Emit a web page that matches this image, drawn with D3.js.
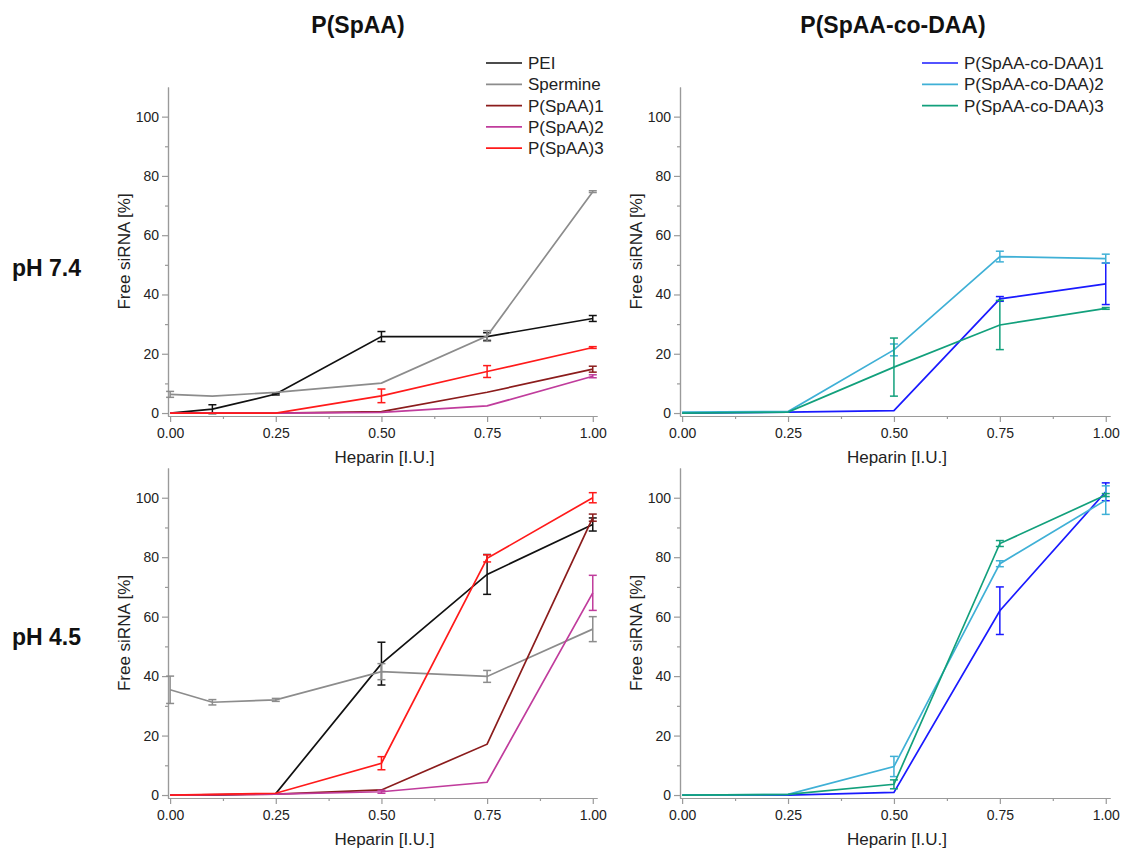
<!DOCTYPE html>
<html>
<head>
<meta charset="utf-8">
<style>
  body { margin: 0; background: #fff; }
  text { font-family: "Liberation Sans", Arial, sans-serif; }
</style>
</head>
<body>
<svg id="container" width="1121" height="849"></svg>
<script src="https://cdn.jsdelivr.net/npm/d3@7"></script>
<script>
    // ---- data ----
    let doses = [0, 0.25, 0.5, 0.75, 1]
    let dosesFine = [0, 0.1, 0.25, 0.5, 0.75, 1]

    let xTicks = [0, 0.25, 0.5, 0.75, 1]
    let xMinorTicks = [0.125, 0.375, 0.625, 0.875]
    let yTicks = [0, 20, 40, 60, 80, 100]
    let yMinorTicks = [10, 30, 50, 70, 90]

    let colTitles = ["P(SpAA)", "P(SpAA-co-DAA)"]
    let rowTitles = ["pH 7.4", "pH 4.5"]

    let leftNames = ["PEI", "Spermine", "P(SpAA)1", "P(SpAA)2", "P(SpAA)3"]
    let leftColors = ["#111111", "#8c8c8c", "#8b1c1c", "#c03c9c", "#ff1a1a"]
    let rightNames = ["P(SpAA-co-DAA)1", "P(SpAA-co-DAA)2", "P(SpAA-co-DAA)3"]
    let rightColors = ["#1a1aff", "#3fb0d6", "#12a07c"]

    // pH 7.4
    let pei74 = [0, 1.3, 6.4, 25.8, 25.8, 31.9]
    let pei74Err = [0, 1.5, 0.3, 1.7, 1.3, 1.0]
    let spermine74 = [6.3, 5.7, 7.0, 10.1, 26.0, 74.7]
    let spermine74Err = [1.0, 0, 0, 0, 1.8, 0.3]
    let spaa1_74 = [0, 0, 0.5, 7.0, 14.8]
    let spaa1_74Err = [0, 0, 0, 0, 1.0]
    let spaa2_74 = [0, 0, 0.2, 2.4, 12.4]
    let spaa2_74Err = [0, 0, 0, 0, 0.5]
    let spaa3_74 = [0, 0, 5.8, 14.0, 22.1]
    let spaa3_74Err = [0, 0, 2.3, 2.0, 0.3]

    let daa1_74 = [0, 0.3, 0.8, 38.5, 43.6]
    let daa1_74Err = [0, 0, 0, 0.8, 7.0]
    let daa2_74 = [0.3, 0.5, 21.3, 52.8, 52.1]
    let daa2_74Err = [0, 0, 2.0, 1.8, 1.5]
    let daa3_74 = [0, 0.3, 15.5, 29.7, 35.3]
    let daa3_74Err = [0, 0, 9.8, 8.3, 0.3]

    // pH 4.5
    let pei45 = [0, 0, 0.5, 44.2, 74.2, 91.0]
    let pei45Err = [0, 0, 0, 7.2, 6.7, 2.2]
    let spermine45 = [35.4, 31.2, 32.0, 41.5, 39.9, 55.8]
    let spermine45Err = [4.6, 0.9, 0.5, 2.7, 2.0, 4.2]
    let spaa1_45 = [0, 0.3, 1.7, 17.1, 93.3]
    let spaa1_45Err = [0, 0, 0, 0, 1.2]
    let spaa2_45 = [0, 0.3, 1.1, 4.3, 68.0]
    let spaa2_45Err = [0, 0, 0.5, 0, 5.9]
    let spaa3_45 = [0, 0.6, 10.7, 79.6, 100.0]
    let spaa3_45Err = [0, 0, 2.2, 1.2, 1.7]

    let daa1_45 = [0, 0, 0.9, 62.0, 102.0]
    let daa1_45Err = [0, 0, 0, 8.0, 3.0]
    let daa2_45 = [0, 0.2, 9.6, 77.8, 99.2]
    let daa2_45Err = [0, 0, 3.4, 1.0, 4.8]
    let daa3_45 = [0, 0.2, 3.6, 84.6, 100.9]
    let daa3_45Err = [0, 0, 1.5, 1.0, 0.5]

    function series(names, colors, xs, ys, errs) {
        return names.map((n, i) => ({
            name: n, color: colors[i],
            points: xs[i].map((x, j) => ({ x: x, y: ys[i][j], e: errs[i][j] }))
        }))
    }

    let panels = [
        { col: 0, row: 0, series: series(leftNames, leftColors,
            [dosesFine, dosesFine, doses, doses, doses],
            [pei74, spermine74, spaa1_74, spaa2_74, spaa3_74],
            [pei74Err, spermine74Err, spaa1_74Err, spaa2_74Err, spaa3_74Err]) },
        { col: 1, row: 0, series: series(rightNames, rightColors,
            [doses, doses, doses],
            [daa1_74, daa2_74, daa3_74],
            [daa1_74Err, daa2_74Err, daa3_74Err]) },
        { col: 0, row: 1, series: series(leftNames, leftColors,
            [dosesFine, dosesFine, doses, doses, doses],
            [pei45, spermine45, spaa1_45, spaa2_45, spaa3_45],
            [pei45Err, spermine45Err, spaa1_45Err, spaa2_45Err, spaa3_45Err]) },
        { col: 1, row: 1, series: series(rightNames, rightColors,
            [doses, doses, doses],
            [daa1_45, daa2_45, daa3_45],
            [daa1_45Err, daa2_45Err, daa3_45Err]) }
    ]

    // ---- layout ----
    let svg = d3.select("#container")
    svg.append("rect").attr("width", 1121).attr("height", 849).attr("fill", "white")

    let colX = [[168, 597], [680, 1110]]
    let rowY = [[416, 87], [798, 468]]
    let axisColor = "#9a9a9a"
    let textColor = "#222"

    function drawPanel(p) {
        let x = d3.scaleLinear().domain([-0.005, 1.01]).range(colX[p.col])
        let y = d3.scaleLinear().domain([-1, 110]).range(rowY[p.row])
        let g = svg.append("g")

        let xAxis = g.append("g")
            .attr("transform", `translate(0,${rowY[p.row][0]})`)
            .call(d3.axisBottom(x).tickValues(xTicks).tickFormat(d3.format(".2f")).tickSize(6).tickSizeOuter(0))
        let xMinor = g.append("g")
            .attr("transform", `translate(0,${rowY[p.row][0]})`)
            .call(d3.axisBottom(x).tickValues(xMinorTicks).tickFormat("").tickSize(3).tickSizeOuter(0))
        let yAxis = g.append("g")
            .attr("transform", `translate(${colX[p.col][0]},0)`)
            .call(d3.axisLeft(y).tickValues(yTicks).tickSize(6).tickSizeOuter(0))
        let yMinor = g.append("g")
            .attr("transform", `translate(${colX[p.col][0]},0)`)
            .call(d3.axisLeft(y).tickValues(yMinorTicks).tickFormat("").tickSize(3).tickSizeOuter(0))

        for (let a of [xAxis, xMinor, yAxis, yMinor]) {
            a.selectAll("path, line").attr("stroke", axisColor).attr("stroke-width", 1.2)
            a.selectAll("text").attr("fill", textColor).attr("font-size", 14)
                .attr("font-family", "Liberation Sans, Arial, sans-serif")
        }
        xAxis.selectAll("text").attr("dy", "0.95em")

        // axis titles
        let cx = (colX[p.col][0] + colX[p.col][1]) / 2
        g.append("text")
            .attr("x", cx + 2).attr("y", rowY[p.row][0] + 47)
            .attr("text-anchor", "middle").attr("font-size", 17).attr("fill", textColor)
            .text("Heparin [I.U.]")
        let cy = (rowY[p.row][0] + rowY[p.row][1]) / 2
        g.append("text")
            .attr("transform", `translate(${colX[p.col][0] - 38},${cy}) rotate(-90)`)
            .attr("text-anchor", "middle").attr("font-size", 17).attr("fill", textColor)
            .text("Free siRNA [%]")

        let line = d3.line().x(d => x(d.x)).y(d => y(d.y))

        p.series.forEach(s => {
            let eg = g.append("g").attr("stroke", s.color).attr("stroke-width", 1.5)
            s.points.filter(d => d.e > 0).forEach(d => {
                eg.append("line").attr("x1", x(d.x)).attr("x2", x(d.x))
                    .attr("y1", y(d.y - d.e)).attr("y2", y(d.y + d.e))
                eg.append("line").attr("x1", x(d.x) - 4).attr("x2", x(d.x) + 4)
                    .attr("y1", y(d.y - d.e)).attr("y2", y(d.y - d.e))
                eg.append("line").attr("x1", x(d.x) - 4).attr("x2", x(d.x) + 4)
                    .attr("y1", y(d.y + d.e)).attr("y2", y(d.y + d.e))
            })
            g.append("path").datum(s.points)
                .attr("d", line)
                .attr("fill", "none")
                .attr("stroke", s.color)
                .attr("stroke-width", 1.7)
        })
    }

    panels.forEach(drawPanel)

    // ---- legends ----
    function drawLegend(names, colors, lx, ly) {
        let lg = svg.append("g").attr("transform", `translate(${lx},${ly})`)
        names.forEach((n, i) => {
            lg.append("line").attr("x1", 0).attr("x2", 36)
                .attr("y1", i * 21.3).attr("y2", i * 21.3)
                .attr("stroke", colors[i]).attr("stroke-width", 1.7)
            lg.append("text").attr("x", 42).attr("y", i * 21.3 + 6)
                .attr("font-size", 17).attr("fill", textColor).text(n)
        })
    }
    drawLegend(leftNames, leftColors, 486, 63)
    drawLegend(rightNames, rightColors, 922, 63)

    // ---- titles ----
    colTitles.forEach((t, i) => {
        svg.append("text").attr("x", [358, 893][i]).attr("y", 33)
            .attr("text-anchor", "middle").attr("font-size", 23).attr("font-weight", "bold")
            .attr("fill", "#111").text(t)
    })
    rowTitles.forEach((t, i) => {
        svg.append("text").attr("x", 12).attr("y", [276, 645][i])
            .attr("font-size", 23).attr("font-weight", "bold")
            .attr("fill", "#111").text(t)
    })
</script>
</body>
</html>
